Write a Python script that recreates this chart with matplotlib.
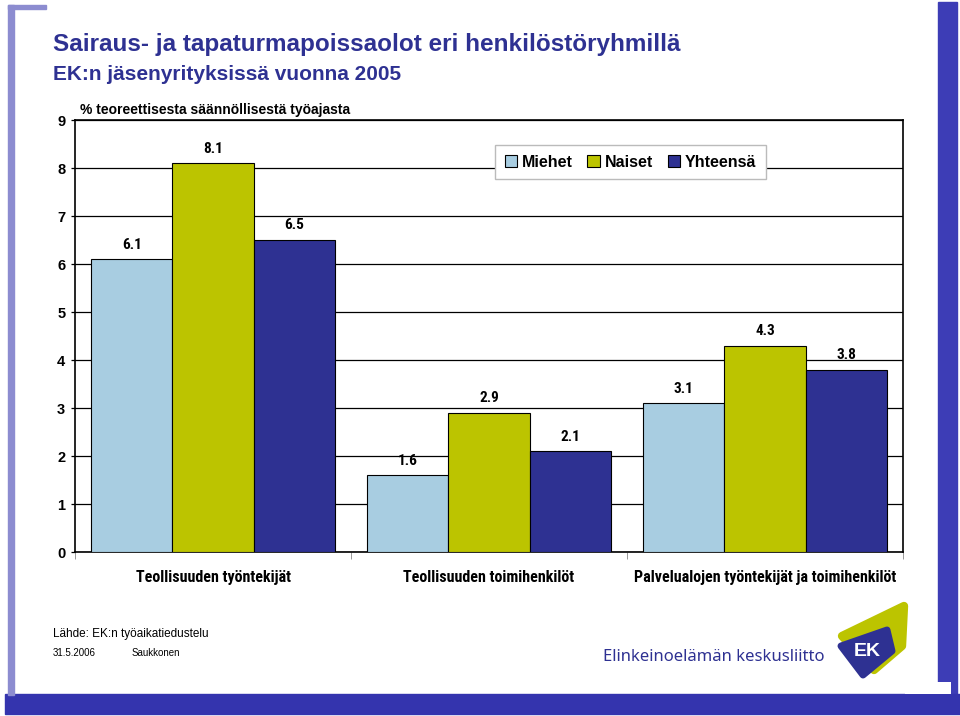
import matplotlib
matplotlib.use("Agg")
import matplotlib.pyplot as plt
from matplotlib.patches import Rectangle, Polygon
import numpy as np

# data
kategoriat = ["Teollisuuden työntekijät", "Teollisuuden toimihenkilöt",
              "Palvelualojen työntekijät ja toimihenkilöt"]
sarjat = ["Miehet", "Naiset", "Yhteensä"]
miehet = [6.1, 1.6, 3.1]
naiset = [8.1, 2.9, 4.3]
yhteensa = [6.5, 2.1, 3.8]
y_ticks = [0, 1, 2, 3, 4, 5, 6, 7, 8, 9]

varit = ["#A8CDE1", "#BCC400", "#2E3192"]
tumma = "#2E3192"

kapea = ["Roboto Condensed", "Barlow Semi Condensed", "Liberation Sans"]
plt.rcParams['font.family'] = ["Liberation Sans", "DejaVu Sans"]

fig = plt.figure(figsize=(9.6, 7.16), dpi=100)
fig.patch.set_facecolor("white")

# dia-taustan sininen reunus
reuna = fig.add_axes([0, 0, 1, 1], zorder=-5)
reuna.set_xlim(0, 960)
reuna.set_ylim(716, 0)
reuna.axis("off")
reuna.add_patch(Rectangle((938, 2), 19, 694, color="#3D3DB6"))
reuna.add_patch(Rectangle((5, 694), 955, 20, color="#3434AE"))
reuna.add_patch(Rectangle((8, 5), 6, 690, color="#8C8CD0"))
reuna.add_patch(Rectangle((8, 5), 38, 4, color="#8C8CD0"))
reuna.add_patch(Rectangle((905, 682), 46, 12, color="white", lw=0))

# otsikot
fig.text(53 / 960, 1 - 45 / 716, "Sairaus- ja tapaturmapoissaolot eri henkilöstöryhmillä",
         fontsize=17.5, fontweight="bold", color=tumma, va="center")
fig.text(53 / 960, 1 - 74 / 716, "EK:n jäsenyrityksissä vuonna 2005",
         fontsize=15, fontweight="bold", color=tumma, va="center")
fig.text(80 / 960, 1 - 110 / 716, "% teoreettisesta säännöllisestä työajasta",
         fontsize=10, fontweight="bold", color="black", va="center")

# pylväät
ax = fig.add_axes([75 / 960, 1 - 552 / 716, 828 / 960, 432 / 716])
x = np.arange(len(kategoriat))
leveys = 0.294
arvot = [miehet, naiset, yhteensa]
for i, (nimi, sarja) in enumerate(zip(sarjat, arvot)):
    pylvaat = ax.bar(x + (i - 1) * leveys, sarja, leveys, color=varit[i],
                     edgecolor="black", linewidth=0.8, label=nimi, zorder=3)
    for p, v in zip(pylvaat, sarja):
        ax.annotate(f"{v:.1f}", (p.get_x() + p.get_width() / 2, v),
                    xytext=(0, 5.5), textcoords="offset points", ha="center", va="bottom",
                    fontsize=11, fontweight="bold", family=kapea)

ax.set_xlim(-0.5, 2.5)
ax.set_ylim(0, 9)
ax.set_yticks(y_ticks)
ax.set_yticklabels([str(t) for t in y_ticks], fontsize=10.5, fontweight="bold")
ax.yaxis.grid(True, color="black", linewidth=0.9, zorder=0)
ax.set_axisbelow(True)
ax.tick_params(axis="y", direction="out", length=3, width=0.9, pad=4)
ax.set_xticks(x)
ax.set_xticklabels(kategoriat, fontsize=11.5, fontweight="bold", family=kapea)
ax.set_xticks([-0.5, 0.5, 1.5, 2.5], minor=True)
ax.tick_params(axis="x", which="major", length=0, pad=13)
ax.tick_params(axis="x", which="minor", direction="out", length=5, color="#888888")
for s in ax.spines.values():
    s.set_linewidth(1.2)
    s.set_color("black")

leg = ax.legend(loc="upper left", bbox_to_anchor=(420 / 828, 1 - 25 / 432), ncol=3,
                frameon=True, fancybox=False, edgecolor="#BBBBBB",
                prop={"size": 11.5, "weight": "bold"}, borderaxespad=0,
                handlelength=0.8, handleheight=0.8, handletextpad=0.3,
                columnspacing=0.9, borderpad=0.6, framealpha=1)
for h in leg.legend_handles:
    h.set_edgecolor("black")
    h.set_linewidth(0.8)

# lähde
fig.text(53 / 960, 1 - 634 / 716, "Lähde: EK:n työaikatiedustelu", fontsize=8.5, va="center")
fig.text(53 / 960, 1 - 653 / 716, "31.5.2006", fontsize=7, va="center")
fig.text(132 / 960, 1 - 653 / 716, "Saukkonen", fontsize=7, va="center")

# logo
fig.text(603 / 960, 1 - 657 / 716, "Elinkeinoelämän keskusliitto", fontsize=12,
         color=tumma, va="center", family=["Noto Sans", "DejaVu Sans"])
reuna.add_patch(Polygon([(842, 636), (904, 606), (902, 646), (874, 670)], closed=True,
                        facecolor="#BCC400", edgecolor="#BCC400", lw=6, joinstyle="round"))
reuna.add_patch(Polygon([(841, 646), (887, 630), (892, 651), (863, 675)], closed=True,
                        facecolor=tumma, edgecolor=tumma, lw=5, joinstyle="round"))
reuna.text(867, 651, "EK", color="white", fontsize=14, fontweight="bold",
           ha="center", va="center")

fig.savefig("out.png", dpi=100)
